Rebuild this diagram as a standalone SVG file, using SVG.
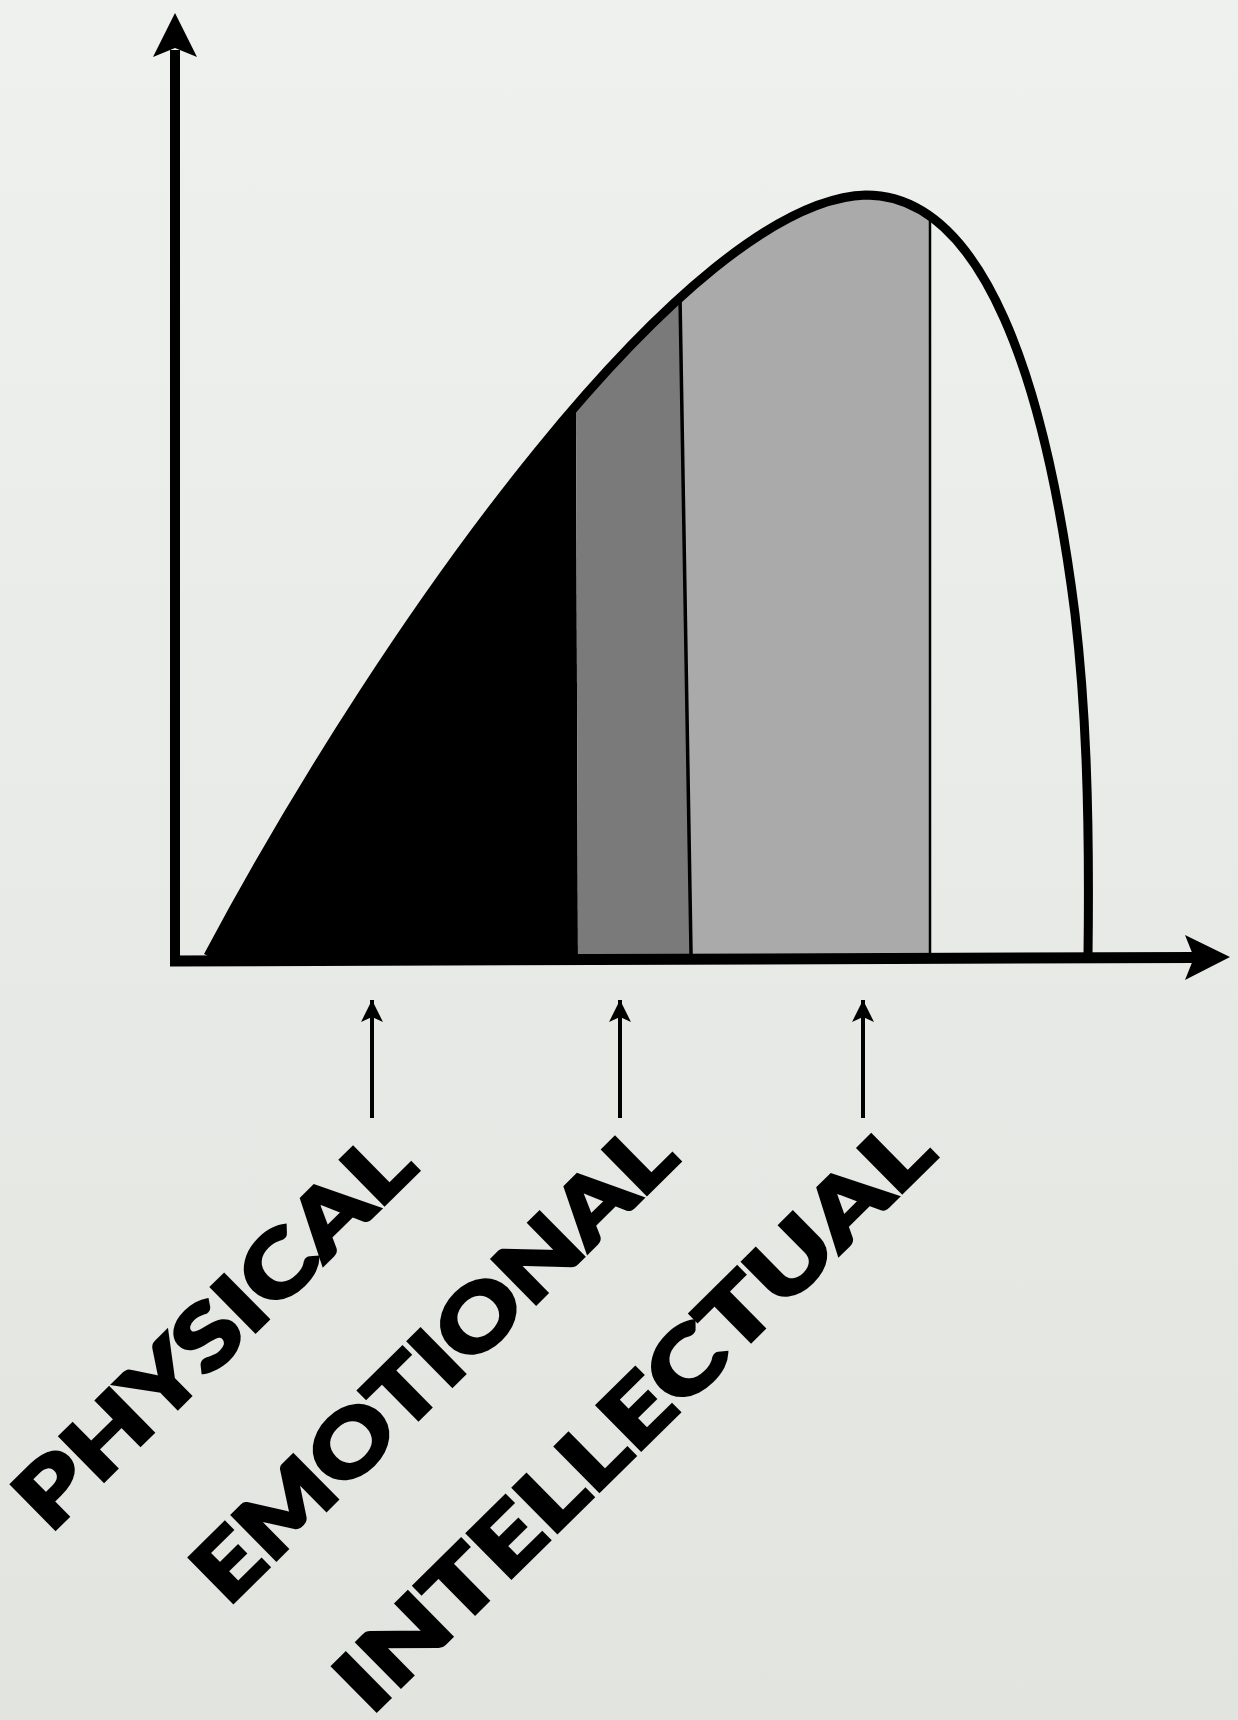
<svg xmlns="http://www.w3.org/2000/svg" width="1238" height="1720" viewBox="0 0 1238 1720">
  <defs>
    <linearGradient id="bg" x1="0" y1="0" x2="0" y2="1">
      <stop offset="0" stop-color="#eff1ee"/>
      <stop offset="1" stop-color="#e2e4e0"/>
    </linearGradient>
    <clipPath id="under">
      <path d="M208,956 C390,615 690,200 866,195 C985,195 1046,385 1075,614 C1085,700 1090,800 1088,956 Z"/>
    </clipPath>
    <marker id="head" markerUnits="userSpaceOnUse" orient="auto" viewBox="-24 -12 26 24" refX="0" refY="0" markerWidth="26" markerHeight="24">
      <path d="M0,0 L-22,-11 L-17,0 L-22,11 Z" fill="#000"/>
    </marker>
    <style>
      .lbl { font-family: Lato, "Open Sans", "DejaVu Sans", sans-serif; font-weight: 900; font-size: 86px; fill: #000; stroke: #000; stroke-width: 3.5; stroke-linejoin: miter; }
      .axis { stroke: #000; fill: none; }
      .small { stroke: #000; stroke-width: 4; fill: none; marker-end: url(#head); }
    </style>
  </defs>
  <rect x="0" y="0" width="1238" height="1720" fill="url(#bg)"/>

  <g id="regions" clip-path="url(#under)">
    <polygon id="physical-area" points="200,100 574.9,100 578,970 200,970" fill="#000"/>
    <polygon id="emotional-area" points="574.9,100 676.7,100 691.3,970 578,970" fill="#7a7a7a"/>
    <polygon id="intellectual-area" points="676.7,100 930,100 930,970 691.3,970" fill="#aaaaaa"/>
    <line x1="676.7" y1="100" x2="691.3" y2="970" stroke="#000" stroke-width="3.5"/>
    <line x1="930" y1="100" x2="930" y2="970" stroke="#000" stroke-width="2.5"/>
  </g>

  <g id="curve">
    <path d="M208,956 C390,615 690,200 866,195 C985,195 1046,385 1075,614 C1085,700 1090,800 1088,956" fill="none" stroke="#000" stroke-width="9"/>
  </g>

  <g id="axes">
    <line class="axis" x1="175" y1="966" x2="175" y2="50" stroke-width="10"/>
    <polygon points="175,13 197,57 175,48 153,57" fill="#000"/>
    <line class="axis" x1="170" y1="961" x2="1195" y2="957.5" stroke-width="11"/>
    <polygon points="1230,957 1185,935 1194,957.5 1185,980" fill="#000"/>
  </g>

  <g id="connectors">
    <line class="small" x1="372" y1="1118" x2="372" y2="1000"/>
    <line class="small" x1="620" y1="1118" x2="620" y2="1000"/>
    <line class="small" x1="863" y1="1118" x2="863" y2="1000"/>
  </g>

  <g id="labels">
    <g id="label-physical" transform="translate(52,1535) rotate(-44.6)">
      <text class="lbl" x="-1" y="-2" textLength="519" lengthAdjust="spacingAndGlyphs">PHYSICAL</text>
    </g>
    <g id="label-emotional" transform="translate(230,1608) rotate(-44.6)">
      <text class="lbl" x="-1" y="-2" textLength="636" lengthAdjust="spacingAndGlyphs">EMOTIONAL</text>
    </g>
    <g id="label-intellectual" transform="translate(373,1717) rotate(-44.6)">
      <text class="lbl" x="-1" y="-2" textLength="797" lengthAdjust="spacingAndGlyphs">INTELLECTUAL</text>
    </g>
  </g>
</svg>
